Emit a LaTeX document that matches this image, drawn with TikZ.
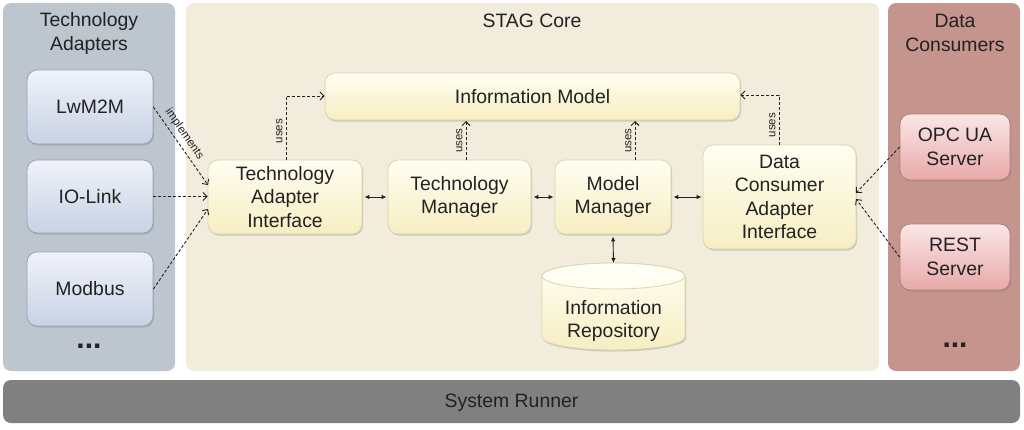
\documentclass[tikz,border=0pt]{standalone}
\usepackage{fontspec}
\setmainfont{Liberation Sans}
\usetikzlibrary{arrows.meta,shadows}
\definecolor{techpanel}{HTML}{BDC5CE}
\definecolor{corepanel}{HTML}{F2ECDC}
\definecolor{conspanel}{HTML}{C5948C}
\definecolor{runnerbar}{HTML}{808080}
\definecolor{ytop}{HTML}{FFFEF2}
\definecolor{ybot}{HTML}{F6EEC2}
\definecolor{yedge}{HTML}{DCD5AC}
\definecolor{btop}{HTML}{EFF2F9}
\definecolor{bbot}{HTML}{C8D2E5}
\definecolor{bedge}{HTML}{98A2B2}
\definecolor{rtop}{HTML}{FAE6E6}
\definecolor{rbot}{HTML}{E8A9A9}
\definecolor{redge}{HTML}{B47C7C}
\definecolor{ink}{HTML}{222222}
\begin{document}
\begin{tikzpicture}[x=1pt,y=-1pt,
  every node/.style={text=ink},
  panel/.style={rounded corners=8pt, draw=none},
  boxbase/.style={rounded corners=10pt, line width=0.8pt, inner sep=0pt, align=center,
     font=\fontsize{19.4}{23.5}\selectfont,
     drop shadow={shadow xshift=1pt, shadow yshift=-1.5pt, opacity=0.35}},
  ybox/.style={boxbase, top color=ytop, bottom color=ybot, draw=yedge},
  bbox/.style={boxbase, top color=btop, bottom color=bbot, draw=bedge},
  rbox/.style={boxbase, top color=rtop, bottom color=rbot, draw=redge},
  title/.style={align=center, font=\fontsize{19.4}{24}\selectfont},
  dots/.style={font=\fontsize{30}{30}\selectfont\bfseries},
  dep/.style={dashed, dash pattern=on 3pt off 2pt, line width=0.9pt, draw=ink,
     -{Straight Barb[length=4pt,width=8pt]}},
  twoway/.style={line width=0.9pt, draw=ink, {Latex[length=5pt,width=4.5pt]}-{Latex[length=5pt,width=4.5pt]}},
  lbl/.style={font=\fontsize{11.5}{11.5}\selectfont, inner sep=1pt}
]
\useasboundingbox (0,0) rectangle (1024,429);
% panels
\fill[panel, techpanel] (3,3) rectangle (175,371);
\fill[panel, corepanel] (186,3) rectangle (879,371);
\fill[panel, conspanel] (888,3) rectangle (1020,371);
\fill[panel, runnerbar] (3,380) rectangle (1020,423);
\node[title] (t1) at (89,33) {Technology\\Adapters};
\node[title] (t2) at (532,21) {STAG Core};
\node[title] (t3) at (955,33) {Data\\Consumers};
\node[title] (t4) at (511.5,403) {System Runner};
% technology adapters
\node[bbox, minimum width=126, minimum height=74] (lwm) at (90,107) {LwM2M};
\node[bbox, minimum width=126, minimum height=73] (iol) at (90,196.5) {IO-Link};
\node[bbox, minimum width=126, minimum height=74] (mod) at (90,289) {Modbus};
\node[dots] (d1) at (89,346) {...};
% data consumers
\node[rbox, minimum width=110, minimum height=66] (opc) at (955,147) {OPC UA\\Server};
\node[rbox, minimum width=110, minimum height=66] (rest) at (955,257) {REST\\Server};
\node[dots] (d2) at (955,345) {...};
% core
\node[ybox, minimum width=415, minimum height=47] (im) at (532.5,96.5) {Information Model};
\node[ybox, minimum width=154, minimum height=74] (tai) at (285,197) {Technology\\Adapter\\Interface};
\node[ybox, minimum width=143, minimum height=74] (tm) at (459.5,197) {Technology\\Manager};
\node[ybox, minimum width=116, minimum height=74] (mm) at (613,197) {Model\\Manager};
\node[ybox, minimum width=153, minimum height=104] (dcai) at (779.5,197) {Data\\Consumer\\Adapter\\Interface};
% cylinder
\path[top color=ytop, bottom color=ybot, draw=yedge, line width=0.8pt,
  drop shadow={shadow xshift=1pt, shadow yshift=-1.5pt, opacity=0.35}]
  (542,276) -- (542,337) arc[start angle=180,end angle=360,x radius=71.5pt,y radius=13pt]
  -- (685,276) arc[start angle=0,end angle=180,x radius=71.5pt,y radius=13pt] -- cycle;
\fill[ytop] (613.5,276) ellipse[x radius=71.5pt,y radius=13pt];
\draw[yedge, line width=0.8pt] (613.5,276) ellipse[x radius=71.5pt,y radius=13pt];
\node[align=center, font=\fontsize{19.4}{23.5}\selectfont] (ir) at (613.5,321) {Information\\Repository};
\coordinate (irtop) at (613.5,263);
% connectors
\draw[dep] (lwm.east |- 0,107) -- node[lbl, sloped, above=3pt, pos=0.42] {implements} (208,185);
\draw[dep] (iol.east) -- (tai.west |- iol.east);
\draw[dep] (mod.east) -- (208,209);
\draw[dep] (opc.west) -- (856,193);
\draw[dep] (rest.west) -- (856,199);
\draw[dep] (286,160) -- node[lbl, sloped, above=2pt, pos=0.45] {uses} (286,96) -- (im.west |- 0,96);
\draw[dep] (466,160) -- node[lbl, sloped, above=2pt] {uses} (466,121);
\draw[dep] (635,160) -- node[lbl, sloped, above=2pt] {uses} (635,121);
\draw[dep] (779,145) -- node[lbl, sloped, above=2pt, pos=0.4] {uses} (779,95) -- (im.east |- 0,95);
\draw[twoway] ([xshift=2pt]tai.east) -- ([xshift=-1pt]tm.west);
\draw[twoway] ([xshift=2pt]tm.east) -- ([xshift=-1pt]mm.west);
\draw[twoway] ([xshift=2pt]mm.east) -- ([xshift=-1pt]dcai.west);
\draw[twoway] ([yshift=-2pt]mm.south) -- (irtop);
\end{tikzpicture}
\end{document}
